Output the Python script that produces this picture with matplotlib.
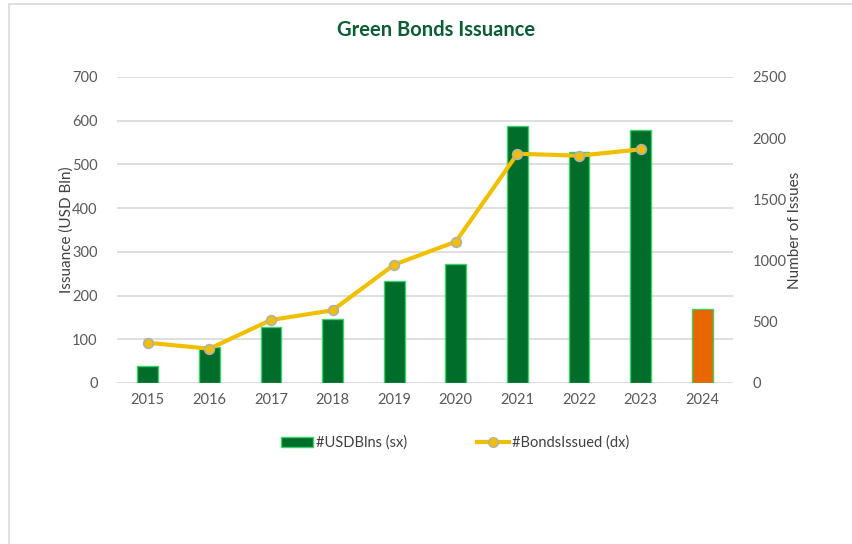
import matplotlib
matplotlib.use("Agg")
import matplotlib.pyplot as plt
from matplotlib.patches import Rectangle, Patch
from matplotlib.lines import Line2D

years = ["2015", "2016", "2017", "2018", "2019", "2020", "2021", "2022", "2023", "2024"]
usd_blns = [39, 83, 129, 146, 234, 272, 589, 529, 579, 169]
bond_years = ["2015", "2016", "2017", "2018", "2019", "2020", "2021", "2022", "2023"]
bonds_issued = [329, 280, 515, 594, 967, 1155, 1873, 1857, 1909]

plt.rcParams['font.family'] = ['Lato', 'DejaVu Sans']

fig = plt.figure(figsize=(8.52, 5.44), dpi=100)
fig.patch.set_facecolor("white")
fig.patches.append(Rectangle((9 / 852, -0.01), 1.0, 1 - 4 / 544 + 0.01,
                             transform=fig.transFigure, fill=False,
                             edgecolor="#d9d9d9", linewidth=1.2))

ax = fig.add_axes([117 / 852, 1 - 383 / 544, 616 / 852, 306 / 544])
ax2 = ax.twinx()

x = list(range(len(years)))
bar_colors = ["#006e2a"] * (len(years) - 1) + ["#e86600"]
ax.bar(x, usd_blns, width=0.34, color=bar_colors, edgecolor="#3ccf6a",
       linewidth=1.0, zorder=3)

xl = [years.index(y) for y in bond_years]
ax2.plot(xl, bonds_issued, color="#f0c000", linewidth=3, marker="o",
         markersize=7, markerfacecolor="#f0c000", markeredgecolor="#b0b0b0",
         markeredgewidth=1.2, zorder=4)

ax.set_xlim(-0.5, len(years) - 0.5)
ax.set_ylim(0, 700)
ax2.set_ylim(0, 2500)
ax.set_yticks(range(0, 701, 100))
ax2.set_yticks(range(0, 2501, 500))
ax.set_xticks(x)
ax.set_xticklabels(years)

ax.grid(axis="y", color="#d9d9d9", linewidth=1.2, zorder=0)
ax.set_axisbelow(True)
for a in (ax, ax2):
    for s in a.spines.values():
        s.set_visible(False)
    a.tick_params(length=0, labelsize=10.5, colors="#595959")
ax.tick_params(axis="y", pad=14)
ax2.tick_params(axis="y", pad=14)
ax.tick_params(axis="x", pad=7)

ax.set_ylabel("Issuance (USD Bln)", fontsize=11, color="#404040", labelpad=-1)
ax2.set_ylabel("Number of Issues", fontsize=11, color="#404040", labelpad=1)

fig.text(436 / 852, 1 - 30 / 544, "Green Bonds Issuance", ha="center", va="center",
         fontsize=14.5, fontweight="bold", color="#0b5e34")

handles = [Patch(facecolor="#006e2a", edgecolor="#3ccf6a", linewidth=1.0),
           Line2D([0], [0], color="#f0c000", linewidth=3, marker="o", markersize=7,
                  markerfacecolor="#f0c000", markeredgecolor="#b0b0b0")]
fig.legend(handles, ["#USDBlns (sx)", "#BondsIssued (dx)"], loc="center",
           bbox_to_anchor=(455 / 852, 1 - 443 / 544), ncol=2, frameon=False,
           fontsize=10.5, labelcolor="#404040", columnspacing=4.8,
           handlelength=2.2, handletextpad=0.2, handleheight=0.6)

fig.savefig("out.png", dpi=100, facecolor="white")
